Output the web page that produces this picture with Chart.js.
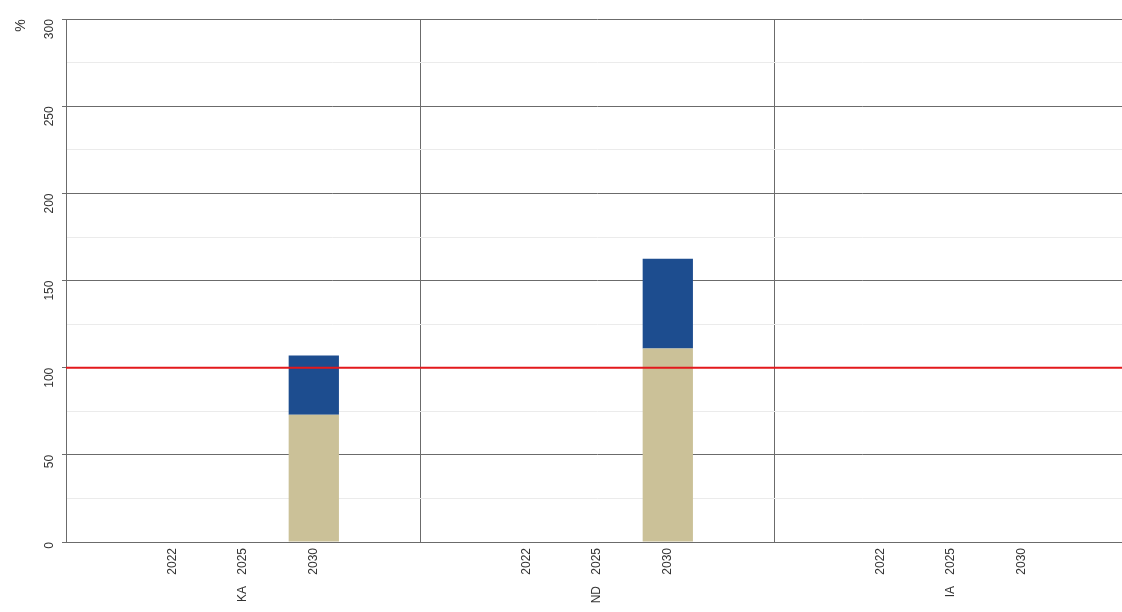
<!DOCTYPE html>
<html>
<head>
<meta charset="utf-8">
<script src="https://cdn.jsdelivr.net/npm/chart.js@4/dist/chart.umd.min.js"></script>
<style>
  html, body { margin: 0; padding: 0; background: #fff; overflow: hidden; }
  #wrap { width: 1128px; height: 612px; }
</style>
</head>
<body>
<div id="wrap"><canvas id="chart"></canvas></div>
<script>
// one group = blank slot, three years, blank slot
const groups = ["KA", "ND", "IA"];
const years = ["", "2022", "2025", "2030", ""];
const categories = groups.flatMap(() => years);
const groupLabels = groups.flatMap((g) => ["", "", g, "", ""]);

const baseShare = [null, 0, 0, 73, null, null, 0, 0, 111, null, null, 0, 0, 0, null];
const extraShare = [null, 0, 0, 34, null, null, 0, 0, 51.5, null, null, 0, 0, 0, null];

const yTicks = { min: 0, max: 300, step: 25, labelEvery: 50 };
const targetLevel = 100;

const targetLine = {
  id: "targetLine",
  afterDatasetsDraw(chart) {
    const { ctx, chartArea, scales } = chart;
    const y = scales.y.getPixelForValue(targetLevel);
    ctx.save();
    ctx.strokeStyle = "#e3191c";
    ctx.lineWidth = 2;
    ctx.beginPath();
    ctx.moveTo(chartArea.left, y);
    ctx.lineTo(chartArea.right, y);
    ctx.stroke();
    ctx.restore();
  }
};

const font = { family: "'Liberation Sans', Arial, sans-serif", size: 12 };

new Chart(document.getElementById("chart"), {
  type: "bar",
  data: {
    labels: categories,
    datasets: [
      { label: "base", data: baseShare, backgroundColor: "#cbc198", barPercentage: 0.71, categoryPercentage: 1 },
      { label: "extra", data: extraShare, backgroundColor: "#1d4d8f", barPercentage: 0.71, categoryPercentage: 1 }
    ]
  },
  options: {
    responsive: true,
    maintainAspectRatio: false,
    animation: false,
    layout: { padding: { top: 19, right: 0, left: 0, bottom: 0 } },
    plugins: { legend: { display: false }, tooltip: { enabled: false } },
    scales: {
      x: {
        stacked: true,
        offset: true,
        grid: {
          offset: true,
          drawTicks: false,
          color: (c) => (c.index % 5 === 0 ? "#6b6b6b" : "rgba(0,0,0,0)")
        },
        border: { color: "#6b6b6b" },
        ticks: { color: "#333", font, minRotation: 90, maxRotation: 90, autoSkip: false, padding: 6 },
        afterFit: (s) => { s.height = 44; }
      },
      x2: {
        type: "category",
        labels: groupLabels,
        position: "bottom",
        offset: true,
        grid: { display: false, drawTicks: false },
        border: { display: false },
        ticks: { color: "#333", font, minRotation: 90, maxRotation: 90, autoSkip: false, padding: 0 },
        afterFit: (s) => { s.height = 26; }
      },
      y: {
        stacked: true,
        min: yTicks.min,
        max: yTicks.max,
        border: { color: "#6b6b6b" },
        grid: {
          color: (c) => (c.tick && c.tick.value % yTicks.labelEvery === 0 ? "#6b6b6b" : "#ebebeb"),
          tickLength: 4,
          tickColor: (c) => (c.tick && c.tick.value % yTicks.labelEvery === 0 ? "#6b6b6b" : "rgba(0,0,0,0)")
        },
        ticks: {
          stepSize: yTicks.step,
          color: "#333",
          font,
          minRotation: 90,
          maxRotation: 90,
          padding: 12,
          callback: (v) => (v % yTicks.labelEvery === 0 ? v : "")
        },
        title: { display: true, text: "%", align: "end", color: "#333", font: { family: font.family, size: 14 }, padding: { top: 13, bottom: 0 } },
        afterFit: (s) => { s.width = 66; }
      }
    }
  },
  plugins: [targetLine]
});
</script>
</body>
</html>
